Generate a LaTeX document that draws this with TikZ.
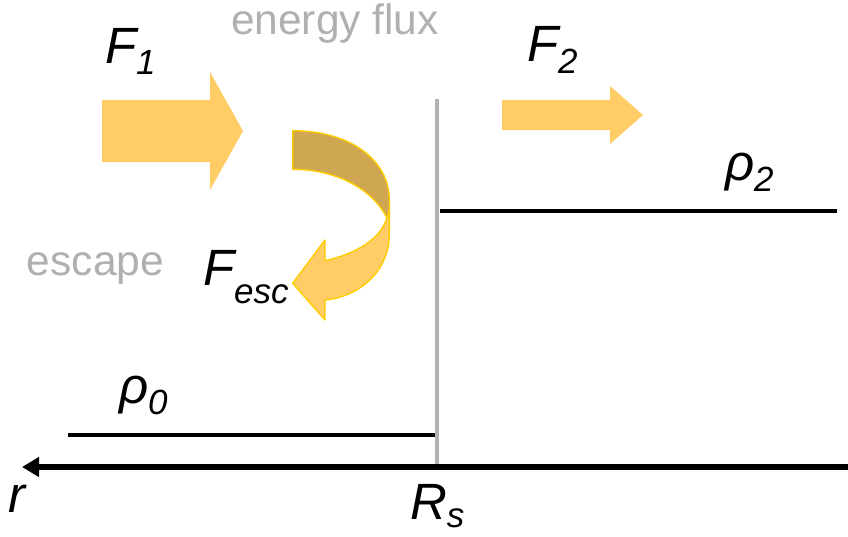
\documentclass[tikz,border=0pt]{standalone}
\usepackage{fontspec}
\setmainfont{Liberation Sans}
\usetikzlibrary{arrows.meta}
\definecolor{arrowfill}{RGB}{255,204,102}
\definecolor{darkfill}{RGB}{207,166,82}
\definecolor{rimgold}{RGB}{255,204,0}
\definecolor{txtgray}{RGB}{176,176,176}
\definecolor{wallgray}{RGB}{178,178,178}
\newcommand\mysub[2]{\raisebox{-#1}{\fontsize{35}{37}\selectfont #2}}
\tikzset{
  flow/.style={fill=arrowfill, draw=none},
  ribbonback/.style={fill=darkfill, draw=rimgold, line width=1.4pt, line join=round},
  ribbonfront/.style={fill=arrowfill, draw=rimgold, line width=1.4pt, line join=round},
  lab/.style={inner sep=0pt, outer sep=0pt, anchor=base west, font=\fontsize{51}{53}\selectfont\itshape},
  graytxt/.style={inner sep=0pt, outer sep=0pt, anchor=base west, text=txtgray, font=\fontsize{42.5}{45}\selectfont},
  level/.style={line width=4.5pt, black},
  wall/.style={line width=3.5pt, wallgray},
  axis/.style={line width=6pt, black, -{Triangle[length=17pt,width=19pt]}},
}
\begin{document}
\begin{tikzpicture}[x=1pt,y=-1pt]
\useasboundingbox (0,0) rectangle (848,536);
% coordinates
\coordinate (wallTop) at (437,99);
\coordinate (wallBot) at (437,465);
\coordinate (axisR) at (848,467);
\coordinate (axisL) at (22,467);
\coordinate (rho2L) at (440,211);
\coordinate (rho2R) at (837,211);
\coordinate (rho0L) at (68,435);
\coordinate (rho0R) at (435,435);
% straight flux arrows
\fill[flow] (102,100) -- (210,100) -- (210,72) -- (243,131) -- (210,190) -- (210,162) -- (102,162) -- cycle;
\fill[flow] (502,100) -- (610,100) -- (610,86) -- (643,115) -- (610,144) -- (610,130) -- (502,130) -- cycle;
% curved escape arrow
\filldraw[ribbonback] (292.7,130.7) .. controls (350,130.7) and (389.3,160) .. (389.3,200) -- (389.3,214) -- (387,218)
  .. controls (372,188) and (335,169.3) .. (292.7,169.3) -- cycle;
\filldraw[ribbonfront] (387,218) -- (389.3,211) -- (389.3,235) .. controls (389.3,266) and (365,296) .. (325,300)
  -- (325,320) -- (292.7,283.3) -- (325,240) -- (325,260.7) .. controls (355,254) and (380,240) .. cycle;
% wall, levels, axis
\draw[wall] (wallTop) -- (wallBot);
\draw[level] (rho2L) -- (rho2R);
\draw[level] (rho0L) -- (rho0R);
\draw[axis] (axisR) -- (axisL);
% labels
\node[graytxt] (eflux) at (231,34) {energy flux};
\node[graytxt] (esc) at (27,275) {escape};
\node[lab] (F1) at (105,63) {F\mysub{11pt}{1}};
\node[lab] (F2) at (527,61) {F\mysub{12pt}{2}};
\node[lab] (Fesc) at (203,285) {F\mysub{18pt}{esc}};
\node[lab] (rho2) at (725,180) {ρ\mysub{11pt}{2}};
\node[lab] (rho0) at (119,403) {ρ\mysub{11pt}{0}};
\node[lab] (r) at (9,512) {r};
\node[lab] (Rs) at (410,519) {R\mysub{8pt}{s}};
\end{tikzpicture}
\end{document}
